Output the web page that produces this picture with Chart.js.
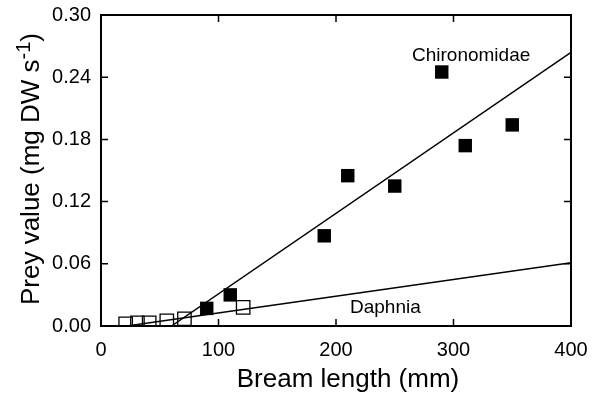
<!DOCTYPE html>
<html>
<head>
<meta charset="utf-8">
<script src="https://cdn.jsdelivr.net/npm/chart.js@4.4.1/dist/chart.umd.min.js"></script>
<style>
  html, body { margin: 0; padding: 0; background: #fff; }
  #wrap { width: 594px; height: 397px; }
</style>
</head>
<body>
<div id="wrap"><canvas id="chart"></canvas></div>
<script>
// Chironomidae (filled squares)
const chiroLength = [90, 110, 190, 210, 250, 290, 310, 350];
const chiroValue  = [0.017, 0.030, 0.087, 0.145, 0.135, 0.245, 0.174, 0.194];

// Daphnia (open squares)
const daphLength = [21, 31, 41, 56, 71, 121];
const daphValue  = [0.002, 0.003, 0.003, 0.005, 0.007, 0.018];

// fitted lines (end points)
const chiroFitX = [60, 400];
const chiroFitY = [0, 0.264];
const daphFitX  = [22, 400];
const daphFitY  = [0, 0.061];

// axis ticks
const xTicks = [0, 100, 200, 300, 400];
const yTicks = [0, 0.06, 0.12, 0.18, 0.24, 0.30];

const FONT = '"Liberation Sans", Arial, Helvetica, sans-serif';

const toPoints = (xs, ys) => xs.map((x, i) => ({ x: x, y: ys[i] }));

// frame, inward ticks, labels and axis titles
const decorPlugin = {
    id: 'decor',
    afterDatasetsDraw(chart) {
        const { ctx, chartArea: a, scales } = chart;
        const xs = scales.x, ys = scales.y;
        const len = 7;
        ctx.save();
        ctx.strokeStyle = '#000';
        ctx.lineWidth = 1.5;
        ctx.beginPath();
        xTicks.slice(1, -1).forEach(v => {
            const px = xs.getPixelForValue(v);
            ctx.moveTo(px, a.bottom); ctx.lineTo(px, a.bottom - len);
            ctx.moveTo(px, a.top); ctx.lineTo(px, a.top + len);
        });
        yTicks.slice(1, -1).forEach(v => {
            const py = ys.getPixelForValue(v);
            ctx.moveTo(a.left, py); ctx.lineTo(a.left + len, py);
            ctx.moveTo(a.right, py); ctx.lineTo(a.right - len, py);
        });
        ctx.stroke();
        ctx.lineWidth = 2;
        ctx.strokeRect(a.left, a.top, a.right - a.left, a.bottom - a.top);

        // series labels
        ctx.fillStyle = '#000';
        ctx.font = '19px ' + FONT;
        ctx.textAlign = 'center';
        ctx.textBaseline = 'alphabetic';
        ctx.fillText('Chironomidae', xs.getPixelForValue(315), ys.getPixelForValue(0.2555));
        ctx.fillText('Daphnia', xs.getPixelForValue(242), ys.getPixelForValue(0.0125));

        // x axis title
        ctx.font = '26px ' + FONT;
        ctx.fillText('Bream length (mm)', 348, 387);

        // y axis title with superscript
        const main = 'Prey value (mg DW s', sup = '-1', end = ')';
        ctx.translate(39, 169);
        ctx.rotate(-Math.PI / 2);
        ctx.textAlign = 'left';
        ctx.font = '26px ' + FONT;
        const wMain = ctx.measureText(main).width;
        const wEnd = ctx.measureText(end).width;
        ctx.font = '20px ' + FONT;
        const wSup = ctx.measureText(sup).width;
        let x0 = -(wMain + wSup + wEnd) / 2;
        ctx.font = '26px ' + FONT;
        ctx.fillText(main, x0, 0);
        x0 += wMain;
        ctx.font = '20px ' + FONT;
        ctx.fillText(sup, x0, -9);
        x0 += wSup;
        ctx.font = '26px ' + FONT;
        ctx.fillText(end, x0, 0);
        ctx.restore();
    }
};

const ctx = document.getElementById('chart').getContext('2d');
new Chart(ctx, {
    type: 'scatter',
    data: {
        datasets: [
            {
                label: 'Chironomidae fit',
                data: toPoints(chiroFitX, chiroFitY),
                showLine: true,
                borderColor: '#000',
                borderWidth: 1.5,
                pointRadius: 0
            },
            {
                label: 'Daphnia fit',
                data: toPoints(daphFitX, daphFitY),
                showLine: true,
                borderColor: '#000',
                borderWidth: 1.5,
                pointRadius: 0
            },
            {
                label: 'Chironomidae',
                data: toPoints(chiroLength, chiroValue),
                pointStyle: 'rect',
                pointRadius: 9.5,
                backgroundColor: '#000',
                borderColor: '#000',
                borderWidth: 0
            },
            {
                label: 'Daphnia',
                data: toPoints(daphLength, daphValue),
                pointStyle: 'rect',
                pointRadius: 9.5,
                backgroundColor: 'rgba(255,255,255,0)',
                borderColor: '#000',
                borderWidth: 1.3
            }
        ]
    },
    options: {
        responsive: true,
        maintainAspectRatio: false,
        animation: false,
        layout: { padding: { top: 15, right: 23, left: 0, bottom: 0 } },
        plugins: {
            legend: { display: false },
            tooltip: { enabled: false }
        },
        scales: {
            x: {
                type: 'linear',
                min: 0,
                max: 400,
                afterBuildTicks: s => { s.ticks = xTicks.map(v => ({ value: v })); },
                afterFit: s => { s.height = 71; s.paddingLeft = 0; s.paddingRight = 0; },
                grid: { display: false, drawTicks: false },
                border: { display: false },
                ticks: {
                    color: '#000',
                    padding: 12,
                    maxRotation: 0,
                    font: { family: FONT, size: 20 }
                }
            },
            y: {
                type: 'linear',
                min: 0,
                max: 0.30,
                afterBuildTicks: s => { s.ticks = yTicks.map(v => ({ value: v })); },
                afterFit: s => { s.width = 101; s.paddingTop = 0; s.paddingBottom = 0; },
                grid: { display: false, drawTicks: false },
                border: { display: false },
                ticks: {
                    color: '#000',
                    padding: 10,
                    font: { family: FONT, size: 20 },
                    callback: v => Number(v).toFixed(2)
                }
            }
        }
    },
    plugins: [decorPlugin]
});
</script>
</body>
</html>
